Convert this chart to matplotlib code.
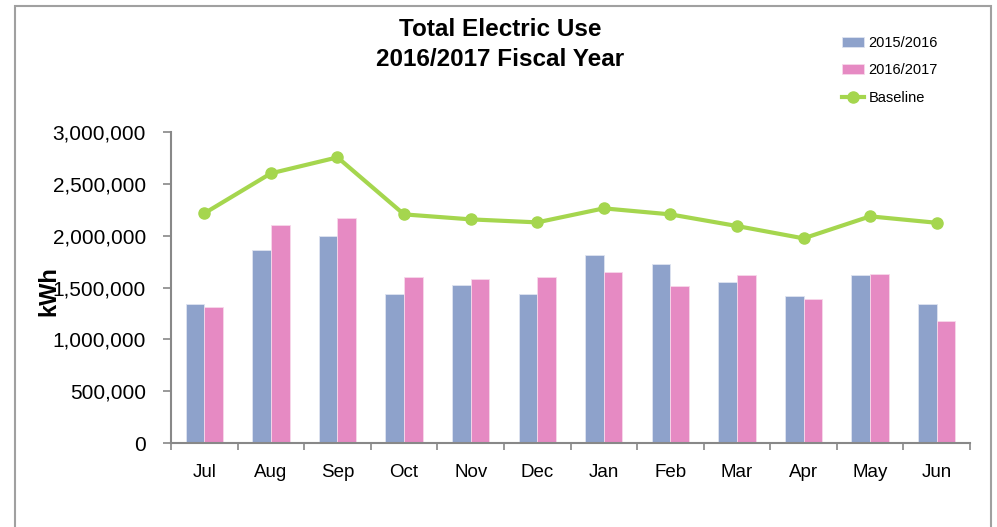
import matplotlib.pyplot as plt
import numpy as np
from matplotlib.patches import Rectangle
from matplotlib.ticker import FuncFormatter

months = ['Jul', 'Aug', 'Sep', 'Oct', 'Nov', 'Dec', 'Jan', 'Feb', 'Mar', 'Apr', 'May', 'Jun']
use_2015 = [1341000, 1860000, 1998000, 1434000, 1524000, 1434000,
            1815000, 1723000, 1556000, 1418000, 1617000, 1341000]
use_2016 = [1309000, 2104000, 2165000, 1601000, 1585000, 1601000,
            1646000, 1511000, 1617000, 1386000, 1633000, 1174000]
baseline = [2214000, 2599000, 2753000, 2204000, 2156000, 2127000,
            2262000, 2204000, 2092000, 1973000, 2185000, 2123000]

plt.rcParams['font.family'] = ['Liberation Sans', 'DejaVu Sans']

fig = plt.figure(figsize=(9.97, 5.27), dpi=100)
fig.patches.append(Rectangle((15 / 997, -0.1), (991 - 15) / 997, 1.1 - 6 / 527,
                             transform=fig.transFigure, fill=False,
                             edgecolor='#a0a0a0', linewidth=1.5))

ax = fig.add_axes([171 / 997, 1 - 443.3 / 527, 799 / 997, 311.6 / 527])
x = np.arange(len(months))
w = 0.28
b1 = ax.bar(x - w / 2, use_2015, w, color='#8ea2cb', edgecolor='#dfe4f0', linewidth=0.6, label='2015/2016')
b2 = ax.bar(x + w / 2, use_2016, w, color='#e68ac3', edgecolor='#f7d8ea', linewidth=0.6, label='2016/2017')
ln, = ax.plot(x, baseline, color='#a5d64e', linewidth=3, marker='o', markersize=8, label='Baseline')

ax.set_xlim(-0.5, len(months) - 0.5)
ax.set_ylim(0, 3000000)
ax.set_yticks(np.arange(0, 3000001, 500000))
ax.yaxis.set_major_formatter(FuncFormatter(lambda v, p: f'{int(v):,}'))
ax.set_xticks(x)
ax.set_xticklabels(months)
ax.set_xticks(np.arange(-0.5, len(months)), minor=True)
ax.tick_params(axis='x', which='major', length=0, pad=15, labelsize=13.5)
ax.tick_params(axis='x', which='minor', length=5, color='#888888', width=1.2)
ax.tick_params(axis='y', length=6, color='#888888', width=1.2, labelsize=15, pad=12)
for s in ['top', 'right']:
    ax.spines[s].set_visible(False)
for s in ['left', 'bottom']:
    ax.spines[s].set_color('#888888')
    ax.spines[s].set_linewidth(1.5)

ax.set_ylabel('kWh', fontsize=17, fontweight='bold')
ax.yaxis.set_label_coords(-0.139, 0.49)

fig.text(500 / 997, 1 - 30 / 527, 'Total Electric Use', ha='center', va='center',
         fontsize=17.5, fontweight='bold')
fig.text(500 / 997, 1 - 59 / 527, '2016/2017 Fiscal Year', ha='center', va='center',
         fontsize=17.5, fontweight='bold')

fig.legend([b1, b2, ln], ['2015/2016', '2016/2017', 'Baseline'],
           loc='upper left', bbox_to_anchor=(842 / 997, 1 - 36 / 527), frameon=False,
           fontsize=10.5, handlelength=1.5, handletextpad=0.3, labelspacing=0.92,
           borderpad=0, borderaxespad=0)

fig.savefig('out.png', dpi=100)
